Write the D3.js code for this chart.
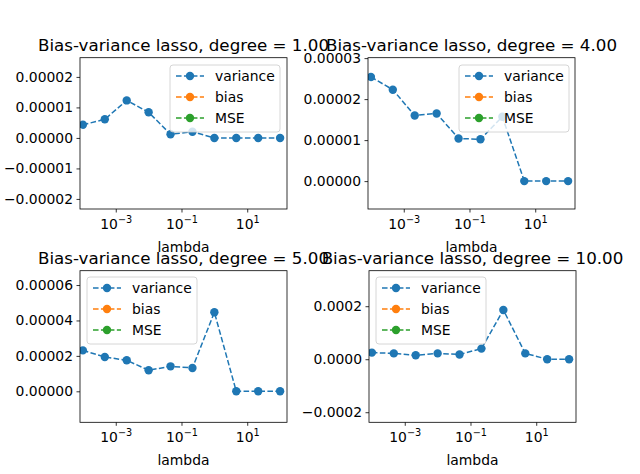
<!DOCTYPE html>
<html><head><meta charset="utf-8">
<script src="https://cdn.jsdelivr.net/npm/d3@7"></script>
<style>body{margin:0;background:#fff}text{font-family:"DejaVu Sans",sans-serif}</style>
</head><body><svg id="c" width="640" height="474"></svg>
<script>
const lambdas = [1e-4, 10**(-4+2/3), 10**(-4+4/3), 1e-2, 10**(-2+2/3), 10**(-2+4/3), 1, 10**(2/3), 10**(4/3), 100];
const titles = ["Bias-variance lasso, degree = 1.00","Bias-variance lasso, degree = 4.00","Bias-variance lasso, degree = 5.00","Bias-variance lasso, degree = 10.00"];
const variance1 = [4.3e-6, 6.1e-6, 12.3e-6, 8.4e-6, 1.2e-6, 2.0e-6, 0, 0, 0, 0];
const variance4 = [2.54e-5, 2.23e-5, 1.6e-5, 1.65e-5, 1.04e-5, 1.02e-5, 1.57e-5, 0, 0, 0];
const variance5 = [2.31e-5, 1.94e-5, 1.75e-5, 1.19e-5, 1.41e-5, 1.32e-5, 4.46e-5, 0, 0, 0];
const variance10 = [2.5e-5, 2.2e-5, 1.5e-5, 2.2e-5, 1.8e-5, 4.0e-5, 1.86e-4, 2.2e-5, 0, 0];
const yTicks1 = [-2e-5,-1e-5,0,1e-5,2e-5];
const yTicks4 = [0,1e-5,2e-5,3e-5];
const yTicks5 = [0,2e-5,4e-5,6e-5];
const yTicks10 = [-2e-4,0,2e-4];
const xTicks = [1e-3,1e-1,10];
const legendLabels = ["variance","bias","MSE"];
const colors = ["#1f77b4","#ff7f0e","#2ca02c"];

const svg = d3.select("#c");
const panels = [
 {x:80,y:57.7,w:207,h:151.3,ydom:[-2.33e-5,2.63e-5],vals:variance1,ticks:yTicks1,fmt:d3.format(".5f"),title:titles[0],legX:170,legY:65},
 {x:368,y:57.7,w:207,h:151.3,ydom:[-0.68e-5,3.01e-5],vals:variance4,ticks:yTicks4,fmt:d3.format(".5f"),title:titles[1],legX:459,legY:65},
 {x:80,y:270.7,w:207,h:151.6,ydom:[-1.75e-5,6.81e-5],vals:variance5,ticks:yTicks5,fmt:d3.format(".5f"),title:titles[2],legX:87,legY:277},
 {x:369,y:270.7,w:207,h:151.6,ydom:[-2.38e-4,3.34e-4],vals:variance10,ticks:yTicks10,fmt:d3.format(".4f"),title:titles[3],legX:376,legY:277}
];
const sup = {"-3":"\u207b\u00b3","-1":"\u207b\u00b9","1":"\u00b9"};
panels.forEach((p,i)=>{
  const g = svg.append("g").attr("transform",`translate(${p.x},${p.y})`);
  const x = d3.scaleLog().domain([10**-4.088,10**2.21]).range([0,p.w]);
  const y = d3.scaleLinear().domain(p.ydom).range([p.h,0]);
  g.append("clipPath").attr("id","cl"+i).append("rect").attr("width",p.w).attr("height",p.h);
  const yA = g.append("g").call(d3.axisLeft(y).tickValues(p.ticks).tickFormat(d=>p.fmt(d).replace("-","\u2212")).tickSize(3.5).tickPadding(3.5));
  const xA = g.append("g").attr("transform",`translate(0,${p.h})`).call(d3.axisBottom(x).tickValues(xTicks).tickFormat(()=>"").tickSize(3.5));
  xA.selectAll(".tick").each(function(d){
    const e=Math.round(Math.log10(d));
    const t=d3.select(this).append("text").attr("y",20).attr("fill","#000").attr("text-anchor","middle").style("font-size","13.9px");
    t.append("tspan").text("10");
    t.append("tspan").attr("dy",-6).style("font-size","9.7px").text(e<0?"\u2212"+Math.abs(e):String(e));
  });
  [yA,xA].forEach(a=>{a.select(".domain").remove();a.selectAll("line").attr("stroke","#000").attr("stroke-width",0.8);a.selectAll("text").style("font-size","13.9px").attr("fill","#000");});
  const pg = g.append("g").attr("clip-path",`url(#cl${i})`);
  const line = d3.line().x((d,j)=>x(lambdas[j])).y(d=>y(d));
  pg.append("path").datum(p.vals).attr("d",line).attr("fill","none").attr("stroke",colors[0]).attr("stroke-width",1.5).attr("stroke-dasharray","5.55,2.4");
  pg.selectAll("circle").data(p.vals).join("circle").attr("cx",(d,j)=>x(lambdas[j])).attr("cy",d=>y(d)).attr("r",4.2).attr("fill",colors[0]);
  g.append("rect").attr("width",p.w).attr("height",p.h).attr("fill","none").attr("stroke","#000").attr("stroke-width",0.8);
  g.append("text").attr("x",p.w/2).attr("y",p.h+43).attr("text-anchor","middle").style("font-size","13.9px").text("lambda");
  svg.append("text").attr("x",p.x+p.w/2).attr("y",p.y-7).attr("text-anchor","middle").style("font-size","16.7px").text(p.title);
  // legend
  const L = svg.append("g").attr("transform",`translate(${p.legX},${p.legY})`);
  L.append("rect").attr("width",110).attr("height",67).attr("rx",3).attr("fill","#fff").attr("fill-opacity",0.8).attr("stroke","#ccc").attr("stroke-width",0.8);
  legendLabels.forEach((lab,k)=>{
    const yy = 11+k*21;
    L.append("line").attr("x1",6).attr("x2",34).attr("y1",yy).attr("y2",yy).attr("stroke",colors[k]).attr("stroke-width",1.5).attr("stroke-dasharray","5.55,2.4");
    L.append("circle").attr("cx",20).attr("cy",yy).attr("r",4.2).attr("fill",colors[k]);
    L.append("text").attr("x",45).attr("y",yy+5).style("font-size","13.9px").text(lab);
  });
});
</script></body></html>
